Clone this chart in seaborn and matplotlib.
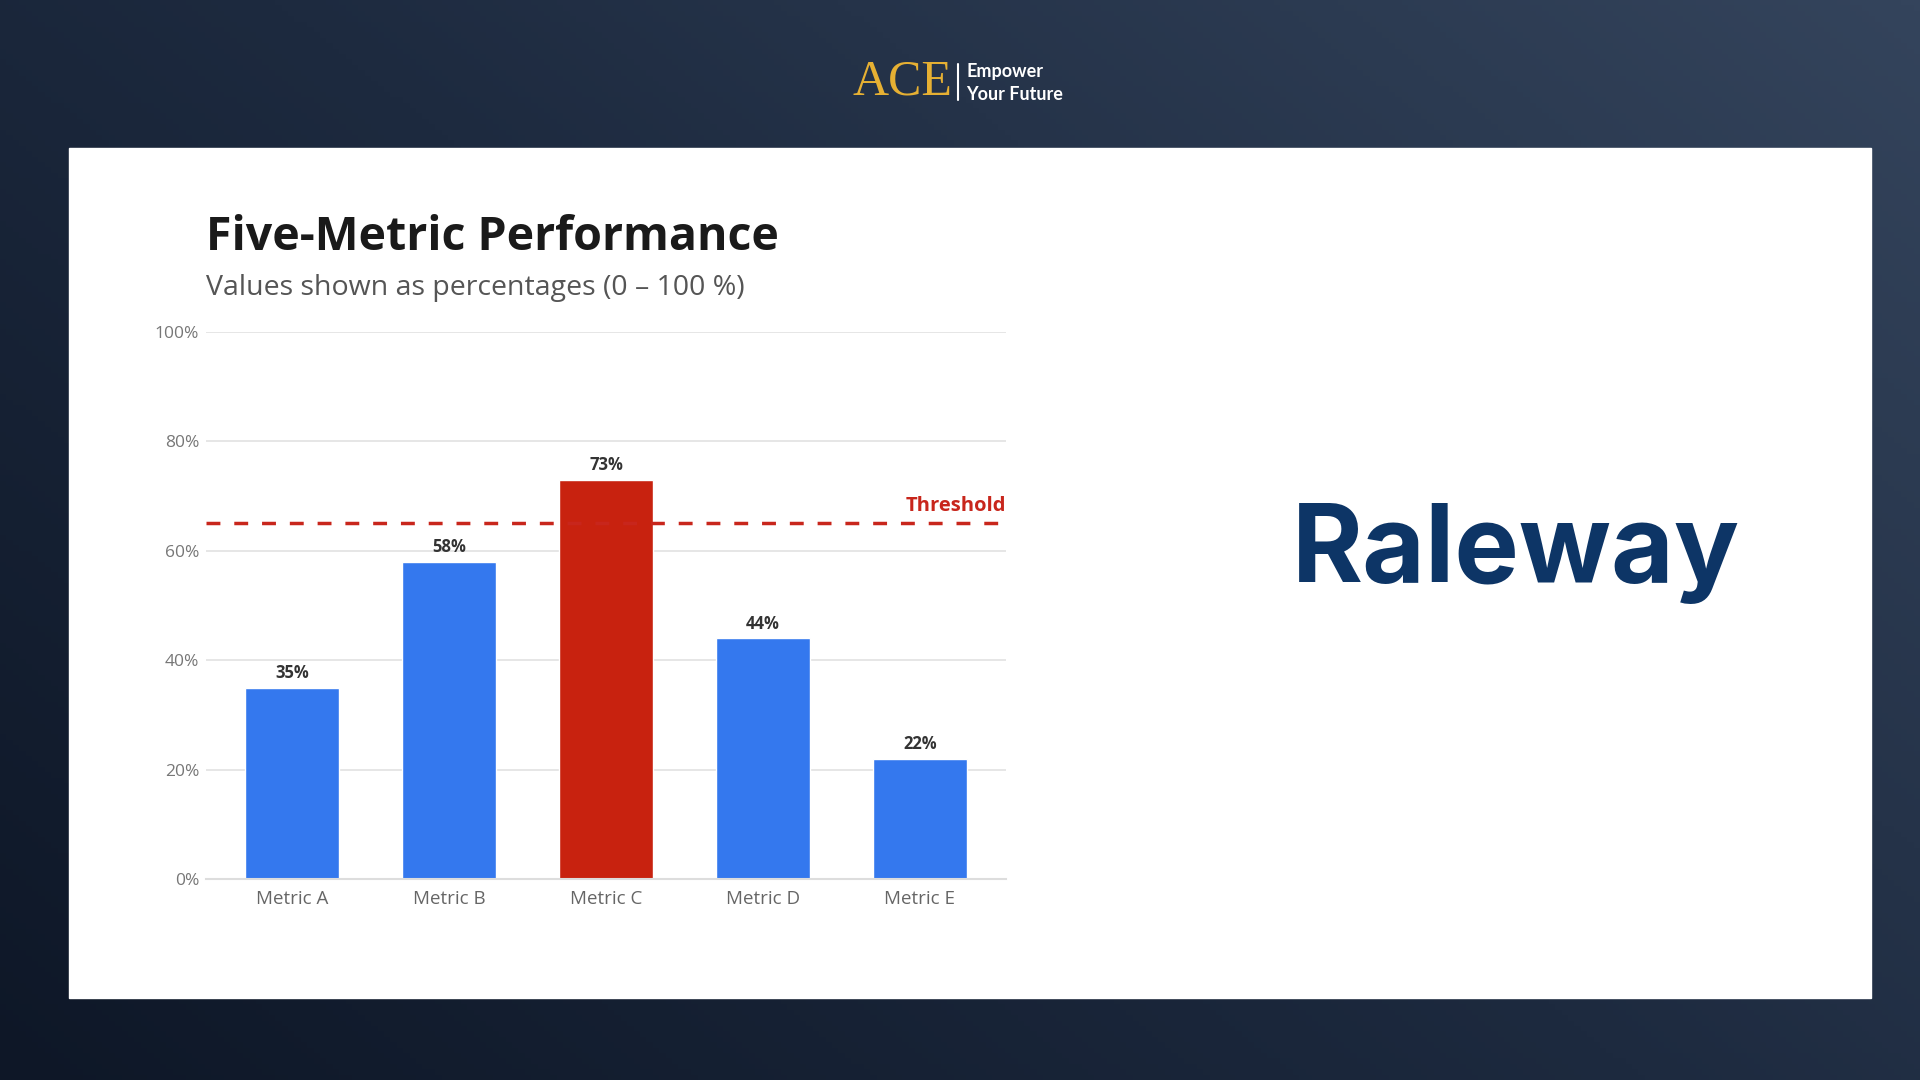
import pandas as pd
import matplotlib.pyplot as plt
import numpy as np
import seaborn as sns

sns.set_style('white')
plt.rcParams['font.family'] = ['Open Sans', 'DejaVu Sans']

# chart data
metrics = ["Metric A", "Metric B", "Metric C", "Metric D", "Metric E"]
values = [35, 58, 73, 44, 22]
threshold = 65
y_ticks = [0, 20, 40, 60, 80, 100]

blue = '#3478EE'
red = '#C8220F'
bar_colors = [red if v > threshold else blue for v in values]

df = pd.DataFrame({'metric': metrics, 'value': values})

fig = plt.figure(figsize=(19.2, 10.8), dpi=100)

# dark slide background
bg = fig.add_axes([0, 0, 1, 1], zorder=-10)
xx, yy = np.meshgrid(np.linspace(0, 1, 300), np.linspace(0, 1, 200))
shade = 0.35 * xx + 0.25 * yy
bg.imshow(shade, cmap=sns.blend_palette(['#0e1727', '#1d2a3f', '#34445c'], as_cmap=True),
          extent=[0, 1, 0, 1], aspect='auto', origin='lower', vmin=0, vmax=0.6)
bg.set_axis_off()

# white card
card = plt.Rectangle((69 / 1920, 1 - 998 / 1080), (1871 - 69) / 1920, (998 - 148) / 1080,
                     transform=fig.transFigure, color='white', zorder=-5)
fig.patches.append(card)

# logo
fig.text(902 / 1920, 1 - 82 / 1080, "ACE", family=['Liberation Serif', 'DejaVu Serif'],
         fontsize=36, color='#E6B033', ha='center', va='center')
fig.add_artist(plt.Line2D([958 / 1920, 958 / 1920], [1 - 64 / 1080, 1 - 100 / 1080],
                          color='white', lw=1.5, transform=fig.transFigure))
fig.text(966 / 1920, 1 - 72 / 1080, "Empower", fontsize=13, fontweight='bold', color='white',
         family=['Lato', 'DejaVu Sans'], ha='left', va='center')
fig.text(966 / 1920, 1 - 94 / 1080, "Your Future", fontsize=13, fontweight='bold', color='white',
         family=['Lato', 'DejaVu Sans'], ha='left', va='center')

# titles
fig.text(206 / 1920, 1 - 238 / 1080, "Five-Metric Performance", fontsize=33.5, fontweight='bold',
         color='#1a1a1a', ha='left', va='center')
fig.text(206 / 1920, 1 - 288 / 1080, "Values shown as percentages (0 – 100 %)", fontsize=20.5,
         color='#555555', ha='left', va='center')

# chart
ax = fig.add_axes([206 / 1920, 1 - 879 / 1080, 800 / 1920, 547 / 1080])
sns.barplot(data=df, x='metric', y='value', hue='metric', palette=bar_colors,
            width=0.6, legend=False, ax=ax, saturation=1)
ax.set_xlim(-0.55, 4.55)
ax.set_ylim(0, 100)
ax.set_yticks(y_ticks)
ax.set_yticklabels([f"{t}%" for t in y_ticks])
ax.grid(axis='y', color='#e2e2e2', lw=1.2)
ax.set_axisbelow(True)
for s in ['top', 'right', 'left']:
    ax.spines[s].set_visible(False)
ax.spines['bottom'].set_color('#dddddd')
ax.spines['bottom'].set_linewidth(1.5)
ax.tick_params(axis='both', length=0, labelsize=12.5, labelcolor='#777777')
ax.tick_params(axis='y', pad=5)
ax.tick_params(axis='x', pad=8, labelsize=13.5, labelcolor='#666666')
ax.set_xlabel("")
ax.set_ylabel("")

for i, v in enumerate(values):
    ax.text(i, v + 1.0, f"{v}%", ha='center', va='bottom', fontsize=12,
            fontweight='bold', color='#333333')

ax.axhline(threshold, color='#C8261C', lw=2.5, ls=(0, (4, 4)))
ax.text(4.55, threshold + 1.4, "Threshold", ha='right', va='bottom', fontsize=14.5,
        fontweight='bold', color='#C8261C')

# font name
fig.text(1516 / 1920, 1 - 554 / 1080, "Raleway", family=['Inter', 'DejaVu Sans'],
         fontsize=78, fontweight='bold', color='#0d3566', ha='center', va='center')

plt.savefig("out.png", dpi=100)
